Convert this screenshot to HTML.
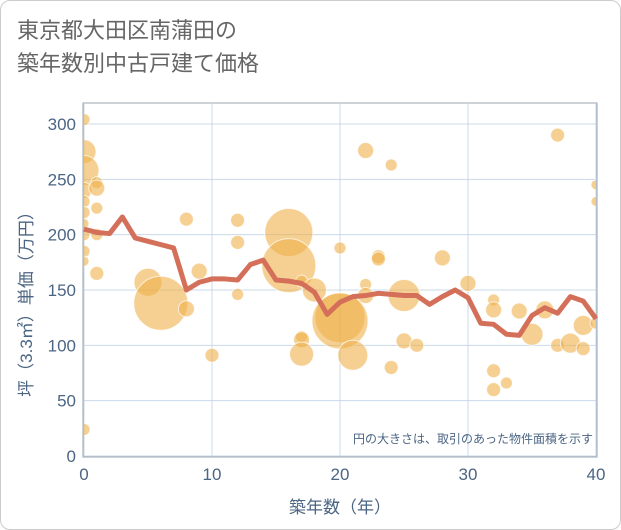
<!DOCTYPE html>
<html><head><meta charset="utf-8"><style>
body{margin:0;background:#fff;font-family:"Liberation Sans","Noto Sans CJK JP",sans-serif;}
.card{position:absolute;left:0;top:0;width:619px;height:528px;border:1px solid #ccc;border-radius:10px;background:#fff;}
.title{position:absolute;left:17px;top:14px;font-size:22px;line-height:33px;color:#666;font-family:"Liberation Sans","Noto Sans CJK JP",sans-serif;}
</style></head><body>
<div class="card"></div>
<div class="title">東京都大田区南蒲田の<br>築年数別中古戸建て価格</div>
<svg id="chart" width="621" height="530" style="position:absolute;left:0;top:0"><defs><clipPath id="pc"><rect x="84" y="103" width="512" height="353"/></clipPath></defs></svg>
<script>
const lineYears=[0,1,2,3,4,5,6,7,8,9,10,11,12,13,14,15,16,17,18,19,20,21,22,23,24,25,26,27,28,29,30,31,32,33,34,35,36,37,38,39,40];
const lineValues=[205,202,201,216,197,194,191,188,150,157,160,160,159,173,177,159,158,156,148,128,139,144,145,147,146,145,145,137,144,150,143,120,119,110,109,127,134,129,144,140,124];
const bubbleYears=[0,0,0,0,1,1,0,0,0,0,0,0,1,1,1,0,8,5,6,8,9,10,12,12,12,16,16,17,18,17,17,17,20,20,20,21,22,22,22,23,23,24,24,25,25,26,28,30,32,32,32,32,33,34,35,36,37,37,38,39,39,40,40,40];
const bubbleValues=[304,275,258,240,247,242,230,220,210,200,185,176,224,200,165,24,214,157,138,133,167,91,213,193,146,202,172,158,150,108,105,92,188,125,122,91,276,155,145,180,178,263,80,145,104,100,179,156,141,132,77,60,66,131,110,132,290,100,102,118,97,245,230,120];
const bubbleSizes=[6,12,15,8,6,8,6,6,5,6,6,5,6,6,7,6,7,14,27,8,8,7,7,7,6,24,27,6,12,6,8,12,6,25,28,15,8,6,8,7,7,6,7,16,8,7,8,8,6,8,7,7,6,8,11,9,7,7,10,10,7,5,5,6];
const xTicks=[0,10,20,30,40];
const yTicks=[0,50,100,150,200,250,300];
const L=84,R=596,T=103,B=456;
const xs=v=>L+(v/40)*(R-L);
const ys=v=>456-v*(332/300);
const svg=document.getElementById('chart');
const NS='http://www.w3.org/2000/svg';
function mk(t,a,p){const e=document.createElementNS(NS,t);for(const k in a)e.setAttribute(k,a[k]);(p||svg).appendChild(e);return e;}
const bg=mk('rect',{x:L-1,y:T,width:R-L+2,height:B-T+1,fill:'#fff',stroke:'#9aa4ad'});


xTicks.forEach(v=>{const g=mk('line',{x1:xs(v),x2:xs(v),y1:T,y2:B,stroke:'#c9d8ea'});


const t=mk('text',{x:xs(v),y:B+24,'text-anchor':'middle','font-size':17,fill:'#4b6584'});t.textContent=v;

});
yTicks.forEach(v=>{const g=mk('line',{x1:L,x2:R,y1:ys(v),y2:ys(v),stroke:'#c9d8ea'});


const t=mk('text',{x:76,y:ys(v)+6,'text-anchor':'end','font-size':17,fill:'#4b6584'});t.textContent=v;

});
const grp=mk('g',{'clip-path':'url(#pc)'});


bubbleYears.forEach((yr,i)=>{const c=mk('circle',{cx:xs(yr),cy:ys(bubbleValues[i]),r:bubbleSizes[i],fill:'rgba(238,176,74,0.6)',stroke:'rgba(255,255,255,0.7)','stroke-width':1},grp);

});
const pl=mk('polyline',{points:lineYears.map((y,i)=>xs(y)+','+ys(lineValues[i])).join(' '),fill:'none',stroke:'#d4705a','stroke-width':5,'stroke-linejoin':'round'});


const note=mk('text',{x:593,y:443,'text-anchor':'end','font-size':12,fill:'#4b6584'});note.textContent='円の大きさは、取引のあった物件面積を示す';


const xt=mk('text',{x:340,y:513,'text-anchor':'middle','font-size':17,fill:'#4b6584'});xt.textContent='築年数（年）';


const yt=mk('text',{x:0,y:0,'text-anchor':'middle','font-size':17,fill:'#4b6584',transform:'translate(32,300) rotate(-90)'});yt.textContent='坪（3.3㎡）単価（万円）';


</script>
</body></html>
